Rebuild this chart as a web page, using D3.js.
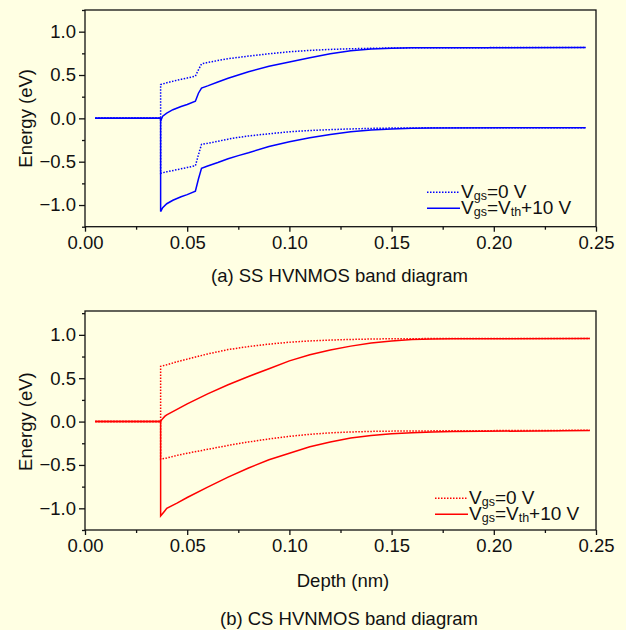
<!DOCTYPE html>
<html>
<head>
<meta charset="utf-8">
<script src="https://cdn.jsdelivr.net/npm/d3@7/dist/d3.min.js"></script>
<style>
    html, body { margin: 0; padding: 0; background: #ffffe3; }
    svg { display: block; }
    text { font-family: "Liberation Sans", Arial, sans-serif; fill: #111; }
</style>
</head>
<body>
<svg id="chart" width="626" height="630"></svg>
<script>
// (a) SS HVNMOS, [depth nm, energy eV]
var ssEc0 = [[0.005, 0], [0.037, 0], [0.037, 0.39], [0.040, 0.41], [0.045, 0.44], [0.050, 0.465], [0.054, 0.487],
    [0.0555, 0.56], [0.057, 0.628], [0.060, 0.645], [0.065, 0.667], [0.070, 0.688], [0.075, 0.703], [0.080, 0.718],
    [0.090, 0.745], [0.100, 0.768], [0.110, 0.784], [0.120, 0.795], [0.130, 0.803], [0.140, 0.808], [0.150, 0.812],
    [0.170, 0.815], [0.200, 0.816], [0.245, 0.816]];
var ssEv0 = [[0.005, 0], [0.037, 0], [0.037, -0.633], [0.040, -0.617], [0.045, -0.592], [0.050, -0.567], [0.054, -0.547],
    [0.0555, -0.42], [0.057, -0.30], [0.060, -0.288], [0.065, -0.265], [0.070, -0.24], [0.075, -0.22], [0.080, -0.203],
    [0.090, -0.178], [0.100, -0.155], [0.110, -0.14], [0.120, -0.13], [0.130, -0.122], [0.140, -0.116], [0.150, -0.112],
    [0.170, -0.109], [0.245, -0.108]];
var ssEc1 = [[0.005, 0], [0.037, 0], [0.037, -0.03], [0.038, 0.025], [0.040, 0.06], [0.043, 0.10], [0.047, 0.137],
    [0.050, 0.16], [0.054, 0.197], [0.0555, 0.29], [0.057, 0.35], [0.060, 0.375], [0.065, 0.42], [0.070, 0.462],
    [0.075, 0.50], [0.080, 0.537], [0.090, 0.60], [0.100, 0.65], [0.110, 0.70], [0.120, 0.745], [0.130, 0.78],
    [0.140, 0.80], [0.150, 0.81], [0.160, 0.815], [0.245, 0.816]];
var ssEv1 = [[0.005, 0], [0.037, 0], [0.037, -1.075], [0.038, -1.03], [0.040, -0.985], [0.043, -0.945], [0.047, -0.905],
    [0.050, -0.88], [0.054, -0.84], [0.0555, -0.70], [0.057, -0.577], [0.060, -0.55], [0.065, -0.51], [0.070, -0.467],
    [0.075, -0.43], [0.080, -0.397], [0.090, -0.325], [0.100, -0.27], [0.110, -0.225], [0.120, -0.185], [0.130, -0.155],
    [0.140, -0.135], [0.150, -0.122], [0.160, -0.114], [0.170, -0.11], [0.245, -0.108]];

// (b) CS HVNMOS
var csEc0 = [[0.005, 0], [0.037, 0], [0.037, 0.637], [0.040, 0.655], [0.045, 0.69], [0.050, 0.72], [0.060, 0.78],
    [0.070, 0.83], [0.080, 0.865], [0.090, 0.893], [0.100, 0.915], [0.110, 0.93], [0.120, 0.94], [0.130, 0.947],
    [0.140, 0.952], [0.150, 0.955], [0.170, 0.957], [0.247, 0.958]];
var csEv0 = [[0.005, 0], [0.037, 0], [0.037, -0.434], [0.040, -0.42], [0.045, -0.39], [0.050, -0.365], [0.060, -0.32],
    [0.070, -0.275], [0.080, -0.235], [0.090, -0.2], [0.100, -0.17], [0.110, -0.147], [0.120, -0.13], [0.130, -0.12],
    [0.140, -0.113], [0.150, -0.11], [0.170, -0.107], [0.247, -0.10]];
var csEc1 = [[0.005, 0], [0.037, 0], [0.0375, 0.02], [0.039, 0.06], [0.040, 0.077], [0.045, 0.14], [0.050, 0.205],
    [0.060, 0.32], [0.070, 0.425], [0.080, 0.52], [0.090, 0.61], [0.100, 0.70], [0.110, 0.77], [0.120, 0.825],
    [0.130, 0.87], [0.140, 0.905], [0.150, 0.93], [0.160, 0.945], [0.170, 0.952], [0.180, 0.955], [0.247, 0.958]];
var csEv1 = [[0.005, 0], [0.037, 0], [0.037, -1.088], [0.0375, -1.075], [0.039, -1.03], [0.040, -1.0], [0.045, -0.94],
    [0.050, -0.875], [0.060, -0.755], [0.070, -0.64], [0.080, -0.535], [0.090, -0.44], [0.100, -0.365], [0.110, -0.29],
    [0.120, -0.235], [0.130, -0.19], [0.140, -0.16], [0.150, -0.14], [0.160, -0.128], [0.170, -0.12], [0.180, -0.115],
    [0.247, -0.103]];

var xTicks = [0, 0.05, 0.10, 0.15, 0.20, 0.25];
var xMinorTicks = [0.025, 0.075, 0.125, 0.175, 0.225];
var yTicks = [-1.0, -0.5, 0.0, 0.5, 1.0];
var yMinorTicks = [-1.25, -0.75, -0.25, 0.25, 0.75, 1.25];

var svg = d3.select('#chart');
svg.append('rect').attr('width', 626).attr('height', 630).attr('fill', '#ffffe3');

/**
 * draws one band diagram panel
 */
function drawPanel(cfg) {
    var x = d3.scaleLinear().domain([0, 0.25]).range([85, 596]);
    var y = d3.scaleLinear().domain(cfg.yDomain).range([cfg.bottom, cfg.top]);
    var g = svg.append('g');

    var line = d3.line()
        .x(function (d) { return x(d[0]); })
        .y(function (d) { return y(d[1]); });

    cfg.series.forEach(function (s) {
        g.append('path')
            .attr('d', line(s.data))
            .attr('fill', 'none')
            .attr('stroke', cfg.color)
            .attr('stroke-width', 1.5)
            .attr('stroke-dasharray', s.dotted ? '1.5,1.5' : null);
    });

    // frame
    g.append('rect')
        .attr('x', x(0)).attr('y', cfg.top)
        .attr('width', x(0.25) - x(0)).attr('height', cfg.bottom - cfg.top)
        .attr('fill', 'none').attr('stroke', '#111').attr('stroke-width', 1.3);

    var fmt = d3.format('.2f');
    g.append('g').attr('transform', 'translate(0,' + cfg.bottom + ')')
        .call(d3.axisBottom(x).tickValues(xTicks).tickFormat(fmt).tickSize(5).tickPadding(4.2));
    g.append('g').attr('transform', 'translate(0,' + cfg.bottom + ')')
        .call(d3.axisBottom(x).tickValues(xMinorTicks).tickFormat('').tickSize(3));

    g.append('g').attr('transform', 'translate(' + x(0) + ',0)')
        .call(d3.axisLeft(y).tickValues(yTicks).tickFormat(d3.format('.1f')).tickSize(6).tickPadding(3));
    g.append('g').attr('transform', 'translate(' + x(0) + ',0)')
        .call(d3.axisLeft(y).tickValues(yMinorTicks).tickFormat('').tickSize(3));

    g.selectAll('.domain').remove();
    g.selectAll('.tick line').attr('stroke', '#111').attr('stroke-width', 1.3);
    g.selectAll('.tick text').style('font-size', '18.5px').style('font-family', '"Liberation Sans", Arial, sans-serif')
        .attr('fill', '#111');

    g.append('text')
        .attr('transform', 'translate(31.5,' + y(0) + ') rotate(-90)')
        .attr('text-anchor', 'middle')
        .style('font-size', '18.5px')
        .text('Energy (eV)');

    // legend
    var lx = cfg.legendX, ly = cfg.legendY;
    var rows = [
        { dotted: true, parts: [['V', 0], ['gs', 1], ['=0 V', 0]] },
        { dotted: false, parts: [['V', 0], ['gs', 1], ['=V', 0], ['th', 1], ['+10 V', 0]] }
    ];
    rows.forEach(function (r, i) {
        var yy = ly + i * 16;
        g.append('line')
            .attr('x1', lx).attr('x2', lx + 33).attr('y1', yy).attr('y2', yy)
            .attr('stroke', cfg.color).attr('stroke-width', 1.5)
            .attr('stroke-dasharray', r.dotted ? '1.5,1.5' : null);
        var t = g.append('text').attr('x', lx + 34).attr('y', yy + 6).style('font-size', '19px');
        var prevSub = false;
        r.parts.forEach(function (p) {
            var sp = t.append('tspan').text(p[0]);
            if (p[1]) {
                sp.style('font-size', '12.5px').attr('dy', 2);
                prevSub = true;
            } else if (prevSub) {
                sp.attr('dy', -2);
                prevSub = false;
            }
        });
    });

    cfg.labels.forEach(function (l) {
        g.append('text')
            .attr('x', l.x).attr('y', l.y)
            .attr('text-anchor', 'middle')
            .style('font-size', '18.5px')
            .text(l.text);
    });
}

drawPanel({
    top: 10, bottom: 226.7, yDomain: [-1.25, 1.25], color: '#0000ff',
    series: [
        { data: ssEc0, dotted: true }, { data: ssEv0, dotted: true },
        { data: ssEc1, dotted: false }, { data: ssEv1, dotted: false }
    ],
    legendX: 427, legendY: 192.3,
    labels: [{ x: 339.5, y: 281.5, text: '(a) SS HVNMOS band diagram' }]
});

drawPanel({
    top: 311, bottom: 530, yDomain: [-1.25, 1.275], color: '#ff0000',
    series: [
        { data: csEc0, dotted: true }, { data: csEv0, dotted: true },
        { data: csEc1, dotted: false }, { data: csEv1, dotted: false }
    ],
    legendX: 435, legendY: 498.3,
    labels: [
        { x: 343, y: 587, text: 'Depth (nm)' },
        { x: 349, y: 624.5, text: '(b) CS HVNMOS band diagram' }
    ]
});
</script>
</body>
</html>
